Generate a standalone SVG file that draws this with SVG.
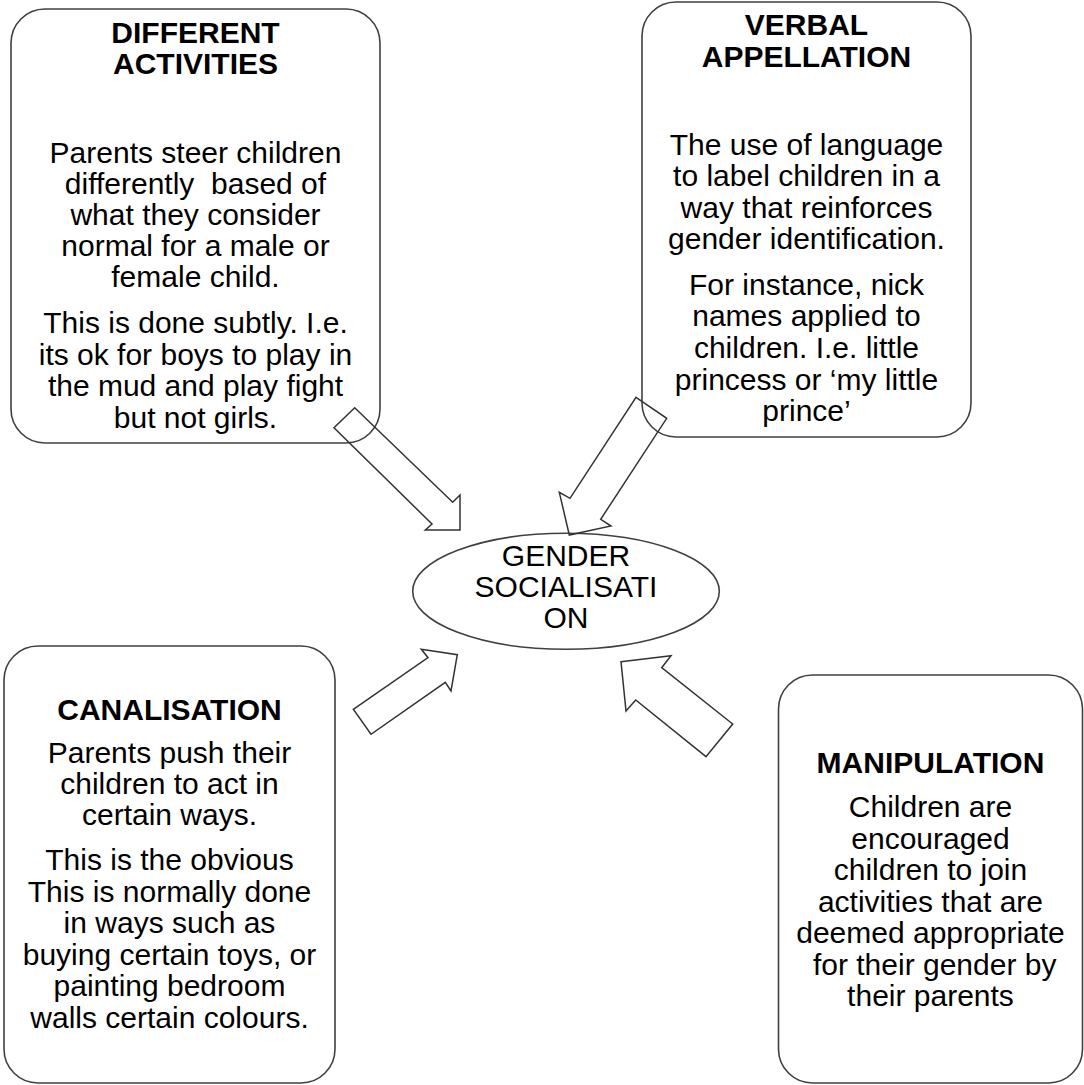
<svg xmlns="http://www.w3.org/2000/svg" width="1084" height="1085" viewBox="0 0 1084 1085">
  <style>
    .box { fill: #ffffff; stroke: #404040; stroke-width: 1.6; }
    .arrow { fill: none; stroke: #333333; stroke-width: 1.5; stroke-linejoin: miter; }
    text { font-family: "Liberation Sans", Arial, sans-serif; font-size: 30px; fill: #000000; text-anchor: middle; white-space: pre; }
    .title { font-weight: bold; }
  </style>
  <rect width="1084" height="1085" fill="#ffffff"/>

  <g id="different-activities">
    <rect class="box" x="11" y="9" width="369" height="434" rx="34" ry="34"/>
    <text class="title" x="195.5" y="43">DIFFERENT</text>
    <text class="title" x="195.5" y="74">ACTIVITIES</text>
    <text x="195.5" y="163">Parents steer children</text>
    <text x="195.5" y="194">differently  based of</text>
    <text x="195.5" y="225">what they consider</text>
    <text x="195.5" y="256">normal for a male or</text>
    <text x="195.5" y="287">female child.</text>
    <text x="195.5" y="333">This is done subtly. I.e.</text>
    <text x="195.5" y="364.5">its ok for boys to play in</text>
    <text x="195.5" y="396">the mud and play fight</text>
    <text x="195.5" y="427.5">but not girls.</text>
  </g>

  <g id="verbal-appellation">
    <rect class="box" x="642" y="2" width="329" height="435" rx="34" ry="34"/>
    <text class="title" x="806.5" y="35">VERBAL</text>
    <text class="title" x="806.5" y="67">APPELLATION</text>
    <text x="806.5" y="155">The use of language</text>
    <text x="806.5" y="186">to label children in a</text>
    <text x="806.5" y="218">way that reinforces</text>
    <text x="806.5" y="249">gender identification.</text>
    <text x="806.5" y="295">For instance, nick</text>
    <text x="806.5" y="326">names applied to</text>
    <text x="806.5" y="358">children. I.e. little</text>
    <text x="806.5" y="390">princess or ‘my little</text>
    <text x="806.5" y="421">prince’</text>
  </g>

  <g id="canalisation">
    <rect class="box" x="4" y="646" width="331" height="437" rx="34" ry="34"/>
    <text class="title" x="169.5" y="720">CANALISATION</text>
    <text x="169.5" y="763">Parents push their</text>
    <text x="169.5" y="794">children to act in</text>
    <text x="169.5" y="825">certain ways.</text>
    <text x="169.5" y="870">This is the obvious</text>
    <text x="169.5" y="901.5">This is normally done</text>
    <text x="169.5" y="933">in ways such as</text>
    <text x="169.5" y="964.5">buying certain toys, or</text>
    <text x="169.5" y="996">painting bedroom</text>
    <text x="169.5" y="1027.5">walls certain colours.</text>
  </g>

  <g id="manipulation">
    <rect class="box" x="778.5" y="675" width="304" height="408" rx="34" ry="34"/>
    <text class="title" x="930.5" y="773">MANIPULATION</text>
    <text x="930.5" y="817">Children are</text>
    <text x="930.5" y="848.5">encouraged</text>
    <text x="930.5" y="880">children to join</text>
    <text x="930.5" y="911.5">activities that are</text>
    <text x="930.5" y="943">deemed appropriate</text>
    <text x="930.5" y="974.5"> for their gender by</text>
    <text x="930.5" y="1006">their parents</text>
  </g>

  <g id="gender-socialisation">
    <ellipse class="box" cx="566" cy="591.3" rx="153.3" ry="58"/>
    <text x="566" y="566">GENDER</text>
    <text x="566" y="597">SOCIALISATI</text>
    <text x="566" y="628">ON</text>
  </g>

  <!-- block arrows pointing into the central ellipse -->
  <g id="connectors">
    <polygon class="arrow" points="354.7,407.7 452.7,502.3 460,495 460,530 425.3,530 432,524 334,427.7"/>
    <polygon class="arrow" points="636,397.3 666.7,418.3 600.7,519.3 611,526 569.3,535 559.3,492.3 570,498.3"/>
    <polygon class="arrow" points="353.3,709.3 428,657.7 421.3,649.3 457.3,654.7 451,691 445.3,682.3 371,734.3"/>
    <polygon class="arrow" points="621,661.7 671,655.7 661.7,667.7 732.7,724 706,756.7 635.7,700 626,711"/>
  </g>
</svg>
